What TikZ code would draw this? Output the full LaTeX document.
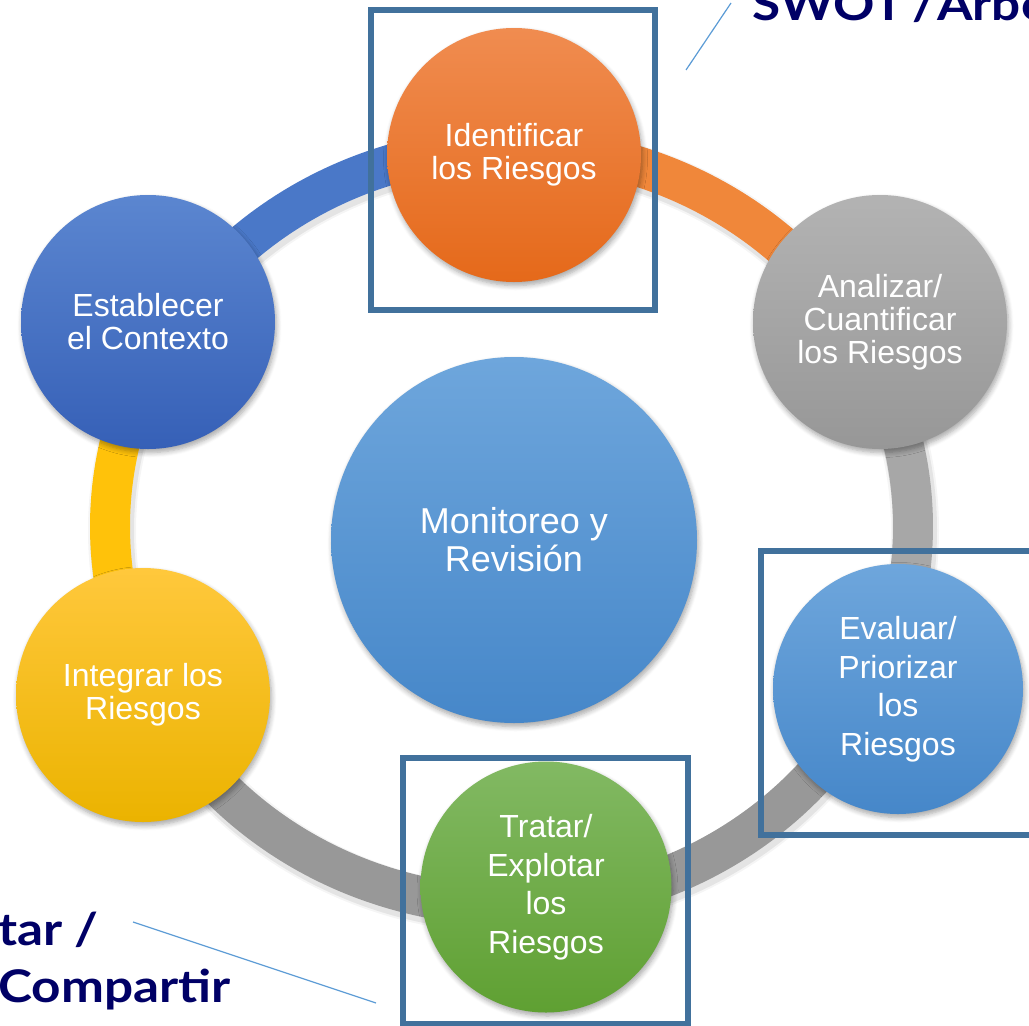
\documentclass[tikz,border=0pt]{standalone}
\usepackage{fontspec}
\setmainfont{Liberation Sans}
\newfontfamily\tagfont{Lato}[FakeStretch=1.14]
\usetikzlibrary{positioning}
\usetikzlibrary{shadows.blur}
\definecolor{boxblue}{HTML}{41719C}
\definecolor{leaderblue}{HTML}{5B9BD5}
\definecolor{tagnavy}{HTML}{000066}
\definecolor{ringorange}{HTML}{F0873A}
\definecolor{ringgray}{HTML}{A7A7A7}
\definecolor{ringdark}{HTML}{989898}
\definecolor{ringyellow}{HTML}{FFC20A}
\definecolor{ringblue}{HTML}{4A78C8}
\definecolor{orangetop}{HTML}{F08C50}
\definecolor{orangebot}{HTML}{E5691A}
\definecolor{graytop}{HTML}{B3B3B3}
\definecolor{graybot}{HTML}{979797}
\definecolor{skytop}{HTML}{6EA6DC}
\definecolor{skybot}{HTML}{4687C9}
\definecolor{greentop}{HTML}{82B963}
\definecolor{greenbot}{HTML}{5FA032}
\definecolor{yellowtop}{HTML}{FFC83C}
\definecolor{yellowbot}{HTML}{EBB300}
\definecolor{navytop}{HTML}{5B86D0}
\definecolor{navybot}{HTML}{3660B7}
\tikzset{
	stage/.style = {circle, minimum size=254pt, inner sep=0pt, align=center, text=white,
		font=\fontsize{32}{33}\selectfont,
		blur shadow={shadow xshift=1.5pt, shadow yshift=-3.5pt, shadow opacity=35, shadow blur radius=5pt, shadow blur steps=6}},
	tallstage/.style = {stage, font=\fontsize{32}{38.5}\selectfont},
	hub/.style = {stage, minimum size=366pt, font=\fontsize{36}{38}\selectfont},
	ringseg/.style = {line width=40pt},
	ringshade/.style = {line width=44pt, black, opacity=0.07},
	markbox/.style = {draw=boxblue, line width=5.5pt},
	pointer/.style = {draw=leaderblue, line width=1.2pt},
	tag/.style = {text=tagnavy, font=\tagfont\bfseries\fontsize{45}{57}\selectfont, inner sep=0pt, anchor=base west}
}

\begin{document}
\begin{tikzpicture}[x=1pt,y=-1pt]
	\useasboundingbox (0,0) rectangle (1029,1026);
	\clip (0,0) rectangle (1029,1026);
	
	% ring
	\coordinate (ring) at (511.5,526.5);
	\draw[ringshade] ([shift={(2,4)}]ring) ellipse [x radius=401.5, y radius=379.5];
	\draw[ringshade, line width=48pt, opacity=0.04] ([shift={(2,4)}]ring) ellipse [x radius=401.5, y radius=379.5];
	\foreach \from/\to/\col in {-91/-30/ringorange, -31/24/ringgray, 23/85/ringdark, 84/154/ringdark, 153/211/ringyellow, 210/270/ringblue}
		\draw[ringseg, \col] (ring) ++(\from:401.5 and 379.5) arc[start angle=\from, end angle=\to, x radius=401.5, y radius=379.5];
	
	% steps
	\node (ident) [stage, top color=orangetop, bottom color=orangebot] at (514,155) {Identificar\\los Riesgos};
	\node (anal) [stage, top color=graytop, bottom color=graybot] at (880,322) {Analizar/\\Cuantificar\\los Riesgos};
	\node (eval) [tallstage, top color=skytop, bottom color=skybot, minimum size=250pt] at (898,689) {Evaluar/\\Priorizar\\los\\Riesgos};
	\node (trat) [tallstage, top color=greentop, bottom color=greenbot, minimum size=251pt] at (546,887) {Tratar/\\Explotar\\los\\Riesgos};
	\node (integ) [stage, top color=yellowtop, bottom color=yellowbot] at (143,695) {Integrar los\\Riesgos};
	\node (estab) [stage, top color=navytop, bottom color=navybot] at (148,322) {Establecer\\el Contexto};
	\node (monit) [hub, top color=skytop, bottom color=skybot] at (514,540) {Monitoreo y\\Revisi\'on};
	
	% highlight boxes
	\draw[markbox] (371,10) rectangle (655,310);
	\draw[markbox] (761,551) rectangle (1045,835);
	\draw[markbox] (403,758) rectangle (688,1024);
	
	% call-outs
	\node (swot) [tag] at (752,20) {SWOT\kern-4pt{} / \kern-12pt{}Arbo};
	\node (acep) [tag] at (-2,945) {tar /};
	\node (comp) [tag] at (-2,1002) {Compartir};
	\coordinate (swotfoot) at (686,70);
	\coordinate (swottip) at (731,3);
	\coordinate (compfoot) at (376,1003);
	\coordinate (comptip) at (133,922);
	\draw[pointer] (swotfoot) -- (swottip);
	\draw[pointer] (comptip) -- (compfoot);
\end{tikzpicture}
\end{document}
